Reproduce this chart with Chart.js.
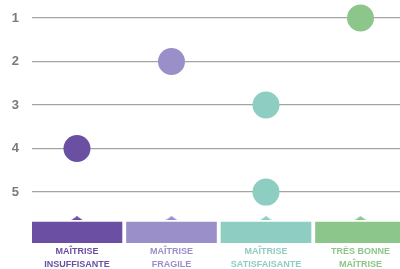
<!DOCTYPE html>
<html><head><meta charset="utf-8">
<script src="https://cdn.jsdelivr.net/npm/chart.js@4/dist/chart.umd.min.js"></script>
<style>html,body{margin:0;padding:0;background:#fff}#wrap{width:400px;height:269px}</style>
</head><body><div id="wrap"><canvas id="c" width="400" height="269"></canvas></div>
<script>
const rowLabels = [1, 2, 3, 4, 5];
const rowLevels = [4, 2, 3, 1, 3];
const categoryLabels = [["MAÎTRISE", "INSUFFISANTE"], ["MAÎTRISE", "FRAGILE"], ["MAÎTRISE", "SATISFAISANTE"], ["TRÈS BONNE", "MAÎTRISE"]];
const categoryColors = ['#6a4fa3', '#9b8fc9', '#8ecdc2', '#8cc68b'];

const BAND_TOP = 5.69, BAND_BOTTOM = 6.17, TRI_Y = 5.6;

function triCanvas(color) {
  const c = document.createElement('canvas');
  c.width = 12; c.height = 4;
  const g = c.getContext('2d');
  g.fillStyle = color;
  g.beginPath(); g.moveTo(0, 4); g.lineTo(6, 0); g.lineTo(12, 4); g.closePath(); g.fill();
  return c;
}
const triStyles = categoryColors.map(triCanvas);

new Chart(document.getElementById('c'), {
  type: 'scatter',
  data: {
    datasets: [
      {
        type: 'scatter',
        data: rowLabels.map((r, i) => ({ x: rowLevels[i], y: r })),
        backgroundColor: ctx => categoryColors[(ctx.raw ? ctx.raw.x : 1) - 1],
        pointRadius: 13.5,
        pointHoverRadius: 13.5,
        borderWidth: 0,
        order: 0
      },
      {
        type: 'bar',
        data: categoryLabels.map((l, i) => ({ x: i + 1, y: [BAND_TOP, BAND_BOTTOM] })),
        backgroundColor: categoryColors,
        barThickness: 90,
        borderWidth: 0,
        order: 1
      },
      {
        type: 'scatter',
        data: categoryLabels.map((l, i) => ({ x: i + 1, y: TRI_Y })),
        pointStyle: triStyles,
        pointRadius: 6,
        order: 1
      }
    ]
  },
  options: {
    responsive: false,
    animation: false,
    layout: { padding: 0, autoPadding: false },
    plugins: { legend: { display: false }, tooltip: { enabled: false } },
    scales: {
      x: {
        type: 'linear',
        offset: false,
        min: 0.524, max: 4.418,
        afterBuildTicks: s => { s.ticks = categoryLabels.map((l, i) => ({ value: i + 1 })); },
        afterFit: s => { s.height = 26; s.paddingLeft = 0; s.paddingRight = 0; },
        grid: { display: false, drawTicks: false, offset: false },
        border: { display: false },
        ticks: {
          padding: 2,
          autoSkip: false,
          maxRotation: 0,
          callback: (v) => categoryLabels[v - 1],
          color: ctx => categoryColors[ctx.index],
          font: { family: 'Liberation Sans', weight: 'bold', size: 9, lineHeight: 1.45 }
        }
      },
      y: {
        type: 'linear',
        reverse: true,
        min: 0.586, max: 6.17,
        afterBuildTicks: s => { s.ticks = rowLabels.map(v => ({ value: v })); },
        afterFit: s => { s.width = 32; s.paddingTop = 0; s.paddingBottom = 0; },
        grid: { color: '#a4a4a4', lineWidth: 1.3, drawTicks: false },
        border: { display: false },
        ticks: {
          padding: 13,
          color: '#7a7a7a',
          font: { family: 'Liberation Sans', weight: 'bold', size: 13 }
        }
      }
    }
  }
});
</script>
</body></html>
